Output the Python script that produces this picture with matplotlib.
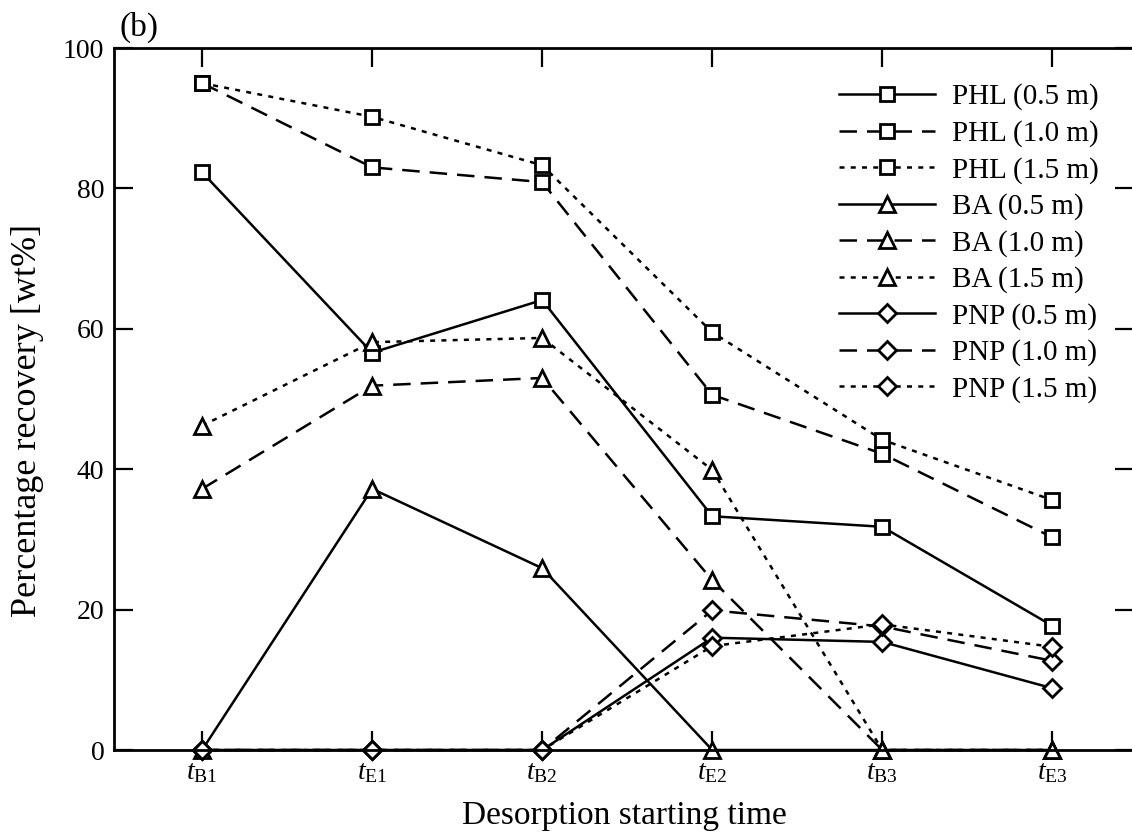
import numpy as np
import matplotlib.pyplot as plt

plt.rcParams['font.family'] = ['Liberation Serif', 'DejaVu Serif']
plt.rcParams['mathtext.fontset'] = 'custom'
plt.rcParams['mathtext.rm'] = 'Liberation Serif'
plt.rcParams['mathtext.it'] = 'Liberation Serif:italic'

# desorption starting times
times = [r'$t_{\mathrm{B1}}$', r'$t_{\mathrm{E1}}$', r'$t_{\mathrm{B2}}$',
         r'$t_{\mathrm{E2}}$', r'$t_{\mathrm{B3}}$', r'$t_{\mathrm{E3}}$']

# percentage recovery [wt%]
phl_05 = [82.3, 56.6, 64.1, 33.3, 31.8, 17.7]
phl_10 = [95.0, 83.0, 80.9, 50.6, 42.2, 30.3]
phl_15 = [95.0, 90.2, 83.3, 59.5, 44.2, 35.6]
ba_05 = [0, 37.2, 25.9, 0, 0, 0]
ba_10 = [37.2, 51.9, 53.0, 24.2, 0, 0]
ba_15 = [46.2, 58.1, 58.7, 39.9, 0, 0]
pnp_05 = [0, 0, 0, 16.0, 15.4, 8.8]
pnp_10 = [0, 0, 0, 19.9, 17.6, 12.7]
pnp_15 = [0, 0, 0, 14.8, 17.9, 14.7]

x = np.arange(len(times))

solid = '-'
dashed = (0, (7, 4))
dotted = (0, (2, 2.5))

series = [
    (phl_05, 's', solid, 'PHL (0.5 m)'),
    (phl_10, 's', dashed, 'PHL (1.0 m)'),
    (phl_15, 's', dotted, 'PHL (1.5 m)'),
    (ba_05, '^', solid, 'BA (0.5 m)'),
    (ba_10, '^', dashed, 'BA (1.0 m)'),
    (ba_15, '^', dotted, 'BA (1.5 m)'),
    (pnp_05, 'D', solid, 'PNP (0.5 m)'),
    (pnp_10, 'D', dashed, 'PNP (1.0 m)'),
    (pnp_15, 'D', dotted, 'PNP (1.5 m)'),
]
msize = {'s': 10.5, '^': 11.5, 'D': 9.5}

fig = plt.figure(figsize=(11.32, 8.38), dpi=100)
ax = fig.add_axes([0.1007, 0.105, 0.9013, 0.8377])

for y, m, ls, lab in series:
    ax.plot(x, y, color='black', linestyle=ls, linewidth=1.8,
            marker=m, markersize=msize[m], markerfacecolor='white',
            markeredgecolor='black', markeredgewidth=2.0, label=lab,
            clip_on=False)

ax.set_xlim(-0.518, 5.482)
ax.set_ylim(0, 100)
ax.set_xticks(x)
ax.set_xticklabels(times)
ax.set_yticks(np.arange(0, 101, 20))
ax.tick_params(direction='in', length=14, width=1.6, labelsize=20,
               top=True, right=True, pad=7)
for s in ax.spines.values():
    s.set_linewidth(2.0)

ax.set_xlabel('Desorption starting time', fontsize=24, va='center')
ax.xaxis.set_label_coords(0.5, -0.093)
ax.set_ylabel('Percentage recovery [wt%]', fontsize=26, va='center')
ax.yaxis.set_label_coords(-0.085, 0.469)

fig.text(0.106, 0.967, '(b)', fontsize=24, va='center', ha='left')

ax.legend(loc='upper right', bbox_to_anchor=(0.977, 0.966), frameon=False,
          fontsize=21, handlelength=3.3, handletextpad=0.58,
          labelspacing=0.33, borderaxespad=0)

fig.savefig('out.png', dpi=100)
